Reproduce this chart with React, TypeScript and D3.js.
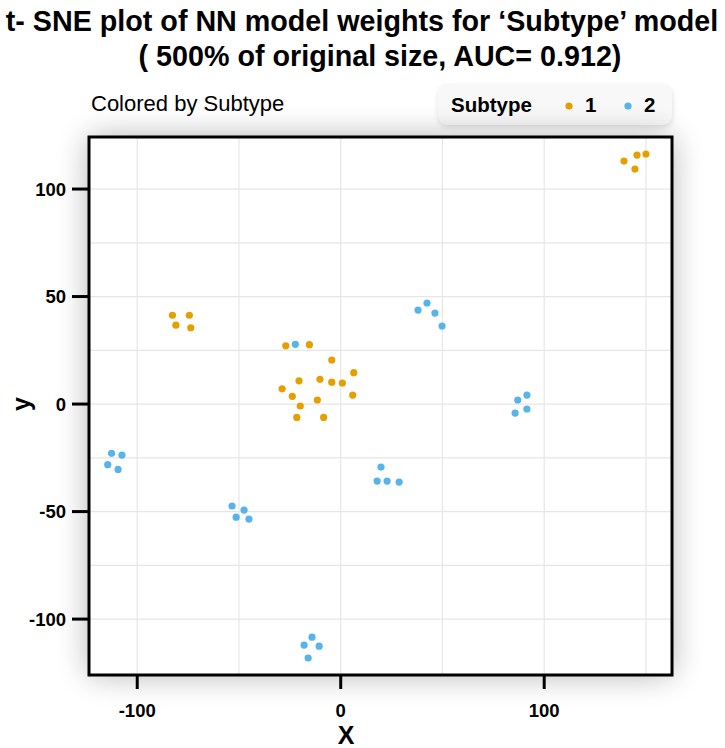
import * as d3 from "d3";

// t-SNE coordinates
const subtype1X = [139.2, 145.6, 150.0, 144.6, -82.7, -74.4, -81.0, -73.7, -27.0, -15.4, -4.4, 6.4, -20.5, -10.2, -4.4, 0.8, -28.8, -23.8, 5.9, -11.5, -19.9, -21.6, -8.4];
const subtype1Y = [113.0, 115.8, 116.3, 109.3, 41.3, 41.3, 36.7, 35.5, 27.1, 27.6, 20.5, 14.6, 10.8, 11.5, 10.2, 9.8, 7.1, 3.6, 4.2, 1.9, -0.9, -6.2, -6.2];
const subtype2X = [-22.3, -112.6, -107.5, -114.5, -109.4, 38.0, 42.4, 46.3, 49.8, 91.5, 87.0, 91.5, 85.7, 19.8, 17.9, 22.8, 28.7, -53.4, -47.5, -51.4, -45.1, -14.1, -18.0, -10.6, -16.0];
const subtype2Y = [27.8, -22.9, -23.7, -28.2, -30.4, 43.7, 47.0, 42.3, 36.3, 4.2, 1.9, -2.3, -4.2, -29.3, -35.8, -35.8, -36.3, -47.4, -49.3, -52.6, -53.5, -108.4, -112.1, -112.6, -118.1];

const xTicks = [-100, 0, 100];
const yTicks = [-100, -50, 0, 50, 100];
const xGrid = [-100, -50, 0, 50, 100, 150];
const yGrid = [-100, -75, -50, -25, 0, 25, 50, 75, 100];

const series = [
  { name: "1", color: "#E69F00", xs: subtype1X, ys: subtype1Y },
  { name: "2", color: "#56B4E9", xs: subtype2X, ys: subtype2Y },
];

const font = "'Liberation Sans', Arial, sans-serif";

export default function App() {
  const width = 725;
  const height = 748;
  const panel = { left: 89, right: 672, top: 137, bottom: 675 };

  const x = d3.scaleLinear().domain([-123.7, 162.8]).range([panel.left, panel.right]);
  const y = d3.scaleLinear().domain([-126, 124.2]).range([panel.bottom, panel.top]);

  return (
    <svg width={width} height={height} style={{ position: "absolute", left: 0, top: 0 }} fontFamily={font}>
      <defs>
        <filter id="shadow" x="-20%" y="-20%" width="140%" height="140%">
          <feGaussianBlur stdDeviation="16" />
        </filter>
        <filter id="lshadow" x="-20%" y="-50%" width="140%" height="200%">
          <feGaussianBlur stdDeviation="3" />
        </filter>
      </defs>
      <rect width={width} height={height} fill="#ffffff" />

      {/* title */}
      <text x={362} y={31} textAnchor="middle" fontSize={28.7} fontWeight="bold">
        t- SNE plot of NN model weights for ‘Subtype’ model
      </text>
      <text x={380} y={66} textAnchor="middle" fontSize={28.7} fontWeight="bold">
        ( 500% of original size, AUC= 0.912)
      </text>
      <text x={91} y={111} fontSize={22}>Colored by Subtype</text>

      {/* legend */}
      <rect x={439} y={87} width={233} height={40} rx={9} fill="#000" opacity={0.14} filter="url(#lshadow)" />
      <rect x={438} y={85} width={234} height={40} rx={9} fill="#f8f8f8" />
      <text x={451} y={112} fontSize={20.5} fontWeight="bold">Subtype</text>
      {series.map((s, i) => (
        <g key={s.name}>
          <circle cx={569 + i * 59} cy={106} r={3.6} fill={s.color} />
          <text x={585 + i * 59} y={112} fontSize={20.5} fontWeight="bold">{s.name}</text>
        </g>
      ))}

      {/* panel with soft shadow */}
      <rect
        x={panel.left}
        y={panel.top}
        width={panel.right - panel.left}
        height={panel.bottom - panel.top}
        fill="#000"
        opacity={0.3}
        filter="url(#shadow)"
      />
      <rect x={panel.left} y={panel.top} width={panel.right - panel.left} height={panel.bottom - panel.top} fill="#ffffff" />

      {xGrid.map((v) => (
        <line key={"gx" + v} x1={x(v)} x2={x(v)} y1={panel.top} y2={panel.bottom} stroke="#e6e6e6" strokeWidth={1.2} />
      ))}
      {yGrid.map((v) => (
        <line key={"gy" + v} x1={panel.left} x2={panel.right} y1={y(v)} y2={y(v)} stroke="#e6e6e6" strokeWidth={1.2} />
      ))}

      {series.map((s) => (
        <g key={"pts" + s.name}>
          {s.xs.map((vx, i) => (
            <circle key={i} cx={x(vx)} cy={y(s.ys[i])} r={3.6} fill={s.color} />
          ))}
        </g>
      ))}

      <rect
        x={panel.left}
        y={panel.top}
        width={panel.right - panel.left}
        height={panel.bottom - panel.top}
        fill="none"
        stroke="#000"
        strokeWidth={3}
      />

      {/* y axis */}
      {yTicks.map((v) => (
        <g key={"ty" + v}>
          <line x1={72} x2={panel.left} y1={y(v)} y2={y(v)} stroke="#000" strokeWidth={3} />
          <text x={66} y={y(v)} dy="0.35em" textAnchor="end" fontSize={18.5} fontWeight="bold">{v}</text>
        </g>
      ))}
      {/* x axis */}
      {xTicks.map((v) => (
        <g key={"tx" + v}>
          <line x1={x(v)} x2={x(v)} y1={panel.bottom} y2={689} stroke="#000" strokeWidth={3} />
          <text x={x(v)} y={717} textAnchor="middle" fontSize={18.5} fontWeight="bold">{v}</text>
        </g>
      ))}

      <text x={346} y={744} textAnchor="middle" fontSize={25} fontWeight="bold">X</text>
      <text transform="translate(30,404) rotate(-90)" textAnchor="middle" fontSize={25} fontWeight="bold">y</text>
    </svg>
  );
}
